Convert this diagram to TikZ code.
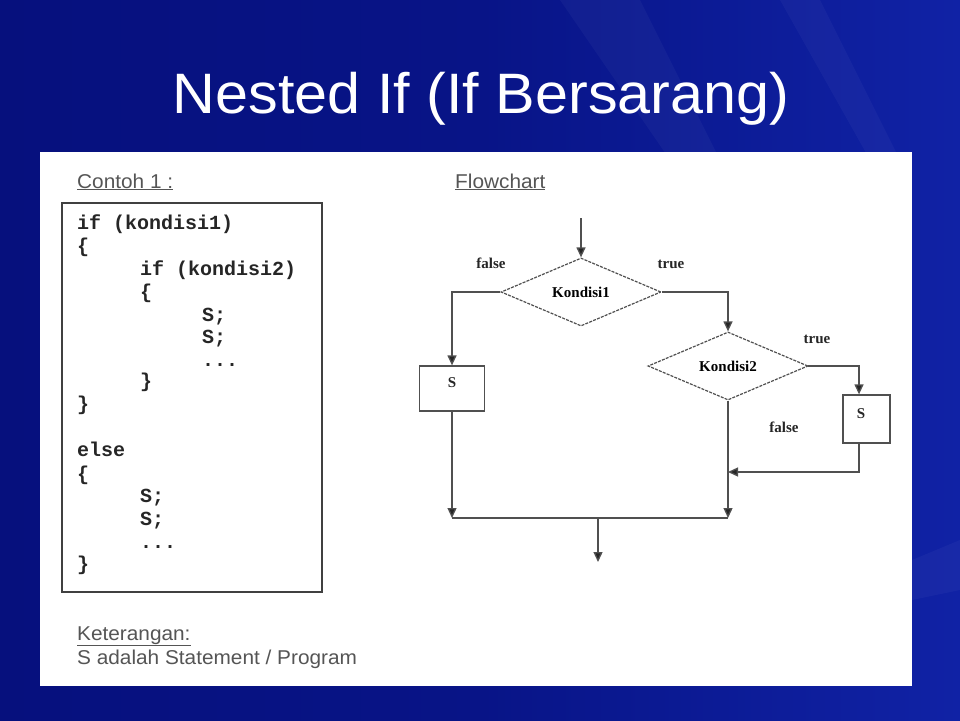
\documentclass[tikz,border=0pt]{standalone}
\usepackage{fontspec}
\setmainfont{Liberation Serif}
\newfontfamily\arialf{Liberation Sans}
\newfontfamily\monof{Liberation Mono}
\usetikzlibrary{shapes.geometric,arrows.meta}
\definecolor{bgleft}{RGB}{6,16,125}
\definecolor{bgmid}{RGB}{8,20,135}
\definecolor{bgright}{RGB}{16,34,165}
\definecolor{labgray}{RGB}{85,85,85}
\definecolor{flowline}{RGB}{80,80,80}
\tikzset{
  title/.style={font=\arialf\fontsize{57}{60}\selectfont, anchor=base},
  gray label/.style={font=\arialf\fontsize{20}{22}\selectfont, text=labgray, anchor=base west, inner sep=0pt},
  codeline/.style={font=\monof\bfseries\fontsize{20}{22}\selectfont, text=black!85, anchor=base west, inner sep=0pt},
  flowtext/.style={font=\bfseries\fontsize{15}{17}\selectfont, text=black!85, anchor=base, inner sep=0pt},
  decision/.style={diamond, draw=flowline, line width=1.2pt, dash pattern=on 3pt off 1.2pt, inner sep=0pt, minimum width=160pt, minimum height=58pt, font=\bfseries\fontsize{15}{17}\selectfont},
  stmt/.style={rectangle, draw=flowline, line width=1.3pt, inner sep=0pt},
  arr/.style={draw=flowline, line width=1.3pt, -{Triangle[length=10pt,width=9pt,fill=black!85]}},
  ln/.style={draw=flowline, line width=1.3pt},
  streak/.style={fill=white, opacity=0.035},
}
\begin{document}
\begin{tikzpicture}[x=1pt,y=-1pt]
\useasboundingbox (0,0) rectangle (960,720);
% background
\shade[left color=bgleft, right color=bgright, middle color=bgmid] (0,0) rectangle (960,720);
\fill[streak] (560,0) -- (640,0) -- (720,160) -- (670,160) -- cycle;
\fill[streak] (780,0) -- (820,0) -- (900,160) -- (870,160) -- cycle;
\fill[streak] (912,560) -- (960,540) -- (960,590) -- (912,600) -- cycle;
% title
\node[title, text=white] (title) at (481,113) {\scalebox{1.04}[1]{Nested If (If Bersarang)}};
% white panel
\fill[white] (40,152) rectangle (912,686);
% left: example
\node[gray label] (contoh) at (77,188) {\underline{\scalebox{1.04}[1]{Contoh 1 :}}};
\draw[draw=black!75, line width=1.5pt] (62,203) rectangle (322,592);
\node[codeline] (c1) at (77,229) {if (kondisi1)};
\node[codeline] (c2) at (77,252) {\{};
\node[codeline] (c3) at (140,275) {if (kondisi2)};
\node[codeline] (c4) at (140,298) {\{};
\node[codeline] (c5) at (202,321) {S;};
\node[codeline] (c6) at (202,343) {S;};
\node[codeline] (c7) at (202,366) {...};
\node[codeline] (c8) at (140,387) {\}};
\node[codeline] (c9) at (77,410) {\}};
\node[codeline] (c10) at (77,456) {else};
\node[codeline] (c11) at (77,480) {\{};
\node[codeline] (c12) at (140,502) {S;};
\node[codeline] (c13) at (140,525) {S;};
\node[codeline] (c14) at (140,548) {...};
\node[codeline] (c15) at (77,570) {\}};
\node[gray label] (ket) at (77,640) {\underline{\scalebox{1.04}[1]{Keterangan:}}};
\node[gray label] (ket2) at (77,664) {\scalebox{1.04}[1]{S adalah Statement / Program}};
% flowchart
\node[gray label] (flow) at (455,188) {\underline{\scalebox{1.04}[1]{Flowchart}}};
\node[decision] (d1) at (581,292) {Kondisi1};
\node[decision] (d2) at (728,366) {Kondisi2};
\node[stmt, minimum width=65pt, minimum height=45pt] (s1) at (452,388.5) {};
\node[flowtext] (s1t) at (452,387) {S};
\node[stmt, minimum width=47pt, minimum height=48pt] (s2) at (866.5,419) {};
\node[flowtext] (s2t) at (861,418) {S};
\node[flowtext] (f1) at (491,268) {false};
\node[flowtext] (t1) at (671,268) {true};
\node[flowtext] (t2) at (817,343) {true};
\node[flowtext] (f2) at (784,432) {false};
\coordinate (in) at (581,218);
\coordinate (m1) at (452,518);
\coordinate (m2) at (728,518);
\coordinate (j2) at (728,472);
\coordinate (mid) at (598,518);
\coordinate (out) at (598,562);
\draw[arr] (in) -- (d1.north);
\draw[arr] (d1.west) -| (s1.north);
\draw[arr] (d1.east) -| (d2.north);
\draw[arr] ([xshift=-1pt]d2.east) -| ([xshift=-7.5pt]s2.north);
\draw[arr] ([xshift=-7.5pt]s2.south) |- (j2);
\draw[arr] (d2.south) -- (m2);
\draw[arr] (s1.south) -- (m1);
\draw[ln] (m1) -- (m2);
\draw[arr] (mid) -- (out);
\end{tikzpicture}
\end{document}
